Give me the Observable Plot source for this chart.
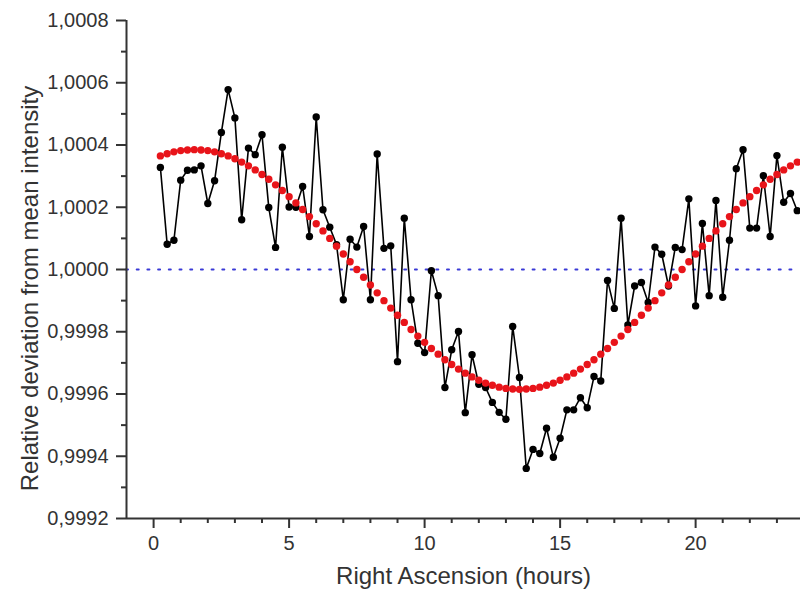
<!DOCTYPE html>
<html>
<head>
<meta charset="utf-8">
<script src="https://cdn.jsdelivr.net/npm/d3@7"></script>
<script src="https://cdn.jsdelivr.net/npm/@observablehq/plot@0.6"></script>
<style>
  html, body { margin: 0; padding: 0; background: #fff; }
  #chart { width: 800px; height: 599px; }
</style>
</head>
<body>
<div id="chart"></div>
<script>
// Right Ascension (hours) of each sample
const hours = [
  0.25, 0.5, 0.75, 1, 1.25, 1.5, 1.75, 2, 2.25, 2.5, 2.75, 3, 3.25, 3.5, 3.75, 4,
  4.25, 4.5, 4.75, 5, 5.25, 5.5, 5.75, 6, 6.25, 6.5, 6.75, 7, 7.25, 7.5, 7.75, 8,
  8.25, 8.5, 8.75, 9, 9.25, 9.5, 9.75, 10, 10.25, 10.5, 10.75, 11, 11.25, 11.5, 11.75, 12,
  12.25, 12.5, 12.75, 13, 13.25, 13.5, 13.75, 14, 14.25, 14.5, 14.75, 15, 15.25, 15.5, 15.75, 16,
  16.25, 16.5, 16.75, 17, 17.25, 17.5, 17.75, 18, 18.25, 18.5, 18.75, 19, 19.25, 19.5, 19.75, 20,
  20.25, 20.5, 20.75, 21, 21.25, 21.5, 21.75, 22, 22.25, 22.5, 22.75, 23, 23.25, 23.5, 23.75
];

// Measured relative deviation from mean intensity (units of 1e-4, relative to 1)
const measured = [
  3.28, 0.81, 0.94, 2.87, 3.19, 3.20, 3.33, 2.12, 2.85, 4.40, 5.78, 4.87, 1.60, 3.90, 3.69, 4.33,
  1.99, 0.71, 3.93, 2.01, 2.00, 2.67, 1.06, 4.90, 1.92, 1.36, 0.80, -0.97, 0.97, 0.72, 1.38, -0.97,
  3.71, 0.68, 0.76, -2.96, 1.65, -0.97, -2.37, -2.67, -0.04, -0.84, -3.79, -2.58, -1.99, -4.60, -2.74, -3.69,
  -3.79, -4.27, -4.59, -4.81, -1.83, -3.47, -6.39, -5.78, -5.91, -5.10, -6.03, -5.42, -4.51, -4.51, -4.12, -4.44,
  -3.44, -3.58, -0.35, -1.25, 1.65, -1.78, -0.53, -0.42, -1.06, 0.72, 0.49, -0.53, 0.71, 0.64, 2.27, -1.17,
  1.48, -0.84, 2.22, -0.89, 0.94, 3.24, 3.85, 1.33, 1.33, 3.01, 1.06, 3.66, 2.16, 2.44, 1.89
];

// Fitted curve (units of 1e-4, relative to 1)
const fitted = [
  3.65, 3.72, 3.78, 3.82, 3.84, 3.85, 3.84, 3.82, 3.78, 3.72, 3.65, 3.56, 3.45, 3.33, 3.20, 3.05,
  2.90, 2.72, 2.54, 2.34, 2.14, 1.93, 1.70, 1.47, 1.24, 1.00, 0.75, 0.50, 0.25, 0, -0.25, -0.50,
  -0.75, -1.00, -1.24, -1.47, -1.70, -1.93, -2.14, -2.34, -2.54, -2.72, -2.90, -3.05, -3.20, -3.33, -3.45, -3.56,
  -3.65, -3.72, -3.78, -3.82, -3.84, -3.85, -3.84, -3.82, -3.78, -3.72, -3.65, -3.56, -3.45, -3.33, -3.20, -3.05,
  -2.90, -2.72, -2.54, -2.34, -2.14, -1.93, -1.70, -1.47, -1.24, -1.00, -0.75, -0.50, -0.25, 0, 0.25, 0.50,
  0.75, 1.00, 1.24, 1.47, 1.70, 1.93, 2.14, 2.34, 2.54, 2.72, 2.90, 3.05, 3.20, 3.33, 3.45
];

const yMajorTicks = [0.9992, 0.9994, 0.9996, 0.9998, 1.0000, 1.0002, 1.0004, 1.0006, 1.0008];
const yMinorTicks = [0.9993, 0.9995, 0.9997, 0.9999, 1.0001, 1.0003, 1.0005, 1.0007];
const xMajorTicks = [0, 5, 10, 15, 20];
const xMinorTicks = [1, 2, 3, 4, 6, 7, 8, 9, 11, 12, 13, 14, 16, 17, 18, 19, 21, 22, 23];
const referenceLevel = [1.0];
const xLabel = "Right Ascension (hours)";
const yLabel = "Relative deviation from mean intensity";

const measuredData = hours.map((h, i) => ({h, v: 1 + measured[i] / 1e4}));
const fittedData = hours.map((h, i) => ({h, v: 1 + fitted[i] / 1e4}));

const fmt = d => d.toFixed(4).replace(".", ",");
const axisColor = "#333";

const chart = Plot.plot({
  width: 800,
  height: 599,
  marginLeft: 126,
  marginRight: 0,
  marginTop: 20,
  marginBottom: 81,
  style: {fontFamily: "'Liberation Sans', Arial, sans-serif", background: "#fff", color: axisColor},
  x: {domain: [-1, 23.87], axis: null},
  y: {domain: [0.9992, 1.0008], axis: null},
  marks: [
    // dotted reference at 1.0000
    Plot.ruleY(referenceLevel, {stroke: "#3a3ad6", strokeWidth: 2, strokeDasharray: "2,8.7", strokeLinecap: "round"}),
    // axes
    Plot.axisY(yMajorTicks, {anchor: "left", tickSize: 10, tickPadding: 8, tickFormat: fmt, fontSize: 20, stroke: axisColor, strokeWidth: 2, fill: axisColor, label: null}),
    Plot.axisY(yMinorTicks, {anchor: "left", tickSize: 5, tickFormat: () => "", stroke: axisColor, strokeWidth: 2, label: null}),
    Plot.axisX(xMajorTicks, {anchor: "bottom", tickSize: 10, tickPadding: 7, fontSize: 20, stroke: axisColor, strokeWidth: 2, fill: axisColor, label: null}),
    Plot.axisX(xMinorTicks, {anchor: "bottom", tickSize: 5, tickFormat: () => "", stroke: axisColor, strokeWidth: 2, label: null}),
    Plot.ruleX([-1], {stroke: axisColor, strokeWidth: 2}),
    Plot.ruleY([0.9992], {stroke: axisColor, strokeWidth: 2}),
    // measured series
    Plot.line(measuredData, {x: "h", y: "v", stroke: "#000", strokeWidth: 1.6}),
    Plot.dot(measuredData, {x: "h", y: "v", r: 3.7, fill: "#000", stroke: "none"}),
    // fitted curve
    Plot.dot(fittedData, {x: "h", y: "v", r: 3.7, fill: "#e8141a", stroke: "none"}),
    // axis titles
    Plot.text([xLabel], {frameAnchor: "bottom", dy: 65, fontSize: 24, fill: axisColor}),
    Plot.text([yLabel], {frameAnchor: "left", textAnchor: "middle", dx: -96, dy: 19, rotate: -90, fontSize: 24, fill: axisColor})
  ]
});

document.getElementById("chart").appendChild(chart);
</script>
</body>
</html>
